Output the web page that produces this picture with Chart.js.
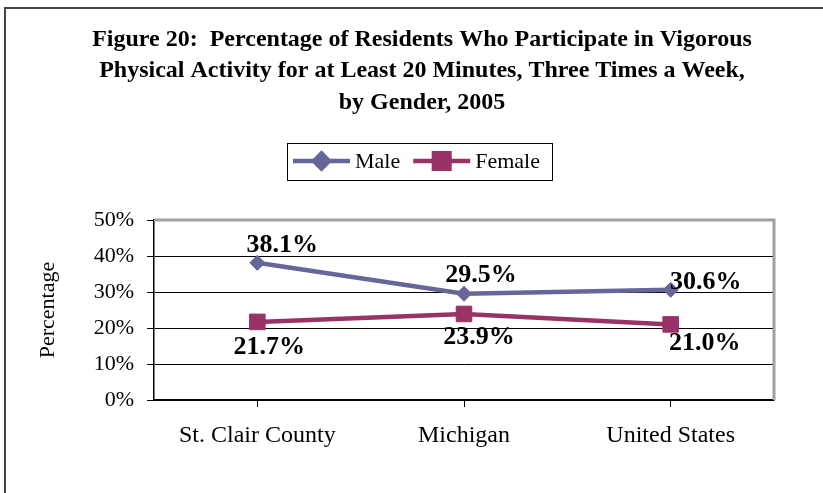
<!DOCTYPE html>
<html>
<head>
<meta charset="utf-8">
<script src="https://cdn.jsdelivr.net/npm/chart.js@4/dist/chart.umd.min.js"></script>
<style>
  html, body { margin: 0; padding: 0; background: #fff; }
  #wrap { width: 823px; height: 493px; }
</style>
</head>
<body>
<div id="wrap"><canvas id="chart" width="823" height="493"></canvas></div>
<script>
// Vigorous activity by gender, 2005 (values in percent)
const categories = ['St. Clair County', 'Michigan', 'United States'];
const maleValues = [38.1, 29.5, 30.6];
const femaleValues = [21.7, 23.9, 21.0];
const yTicks = [0, 10, 20, 30, 40, 50];

// where each data label sits relative to its point (pixels)
const maleLabelOffsets = [[25, -18], [17, -19], [35, -8]];
const femaleLabelOffsets = [[12, 25], [15, 23], [34, 19]];

const SERIF = "'Liberation Serif', 'Times New Roman', serif";

// outer frame, white background
const framePlugin = {
  id: 'frame',
  beforeDraw(chart) {
    const ctx = chart.ctx;
    ctx.save();
    ctx.fillStyle = '#fff';
    ctx.fillRect(0, 0, chart.width, chart.height);
    ctx.strokeStyle = '#444';
    ctx.lineWidth = 2;
    ctx.beginPath();
    ctx.moveTo(5, chart.height);
    ctx.lineTo(5, 8);
    ctx.lineTo(chart.width, 8);
    ctx.stroke();
    ctx.restore();
  }
};

// grey plot-area border on top and right
const plotBorderPlugin = {
  id: 'plotBorder',
  beforeDatasetsDraw(chart) {
    const a = chart.chartArea;
    const ctx = chart.ctx;
    ctx.save();
    ctx.strokeStyle = '#a0a0a0';
    ctx.lineWidth = 3;
    ctx.beginPath();
    ctx.moveTo(a.left, a.top);
    ctx.lineTo(a.right, a.top);
    ctx.lineTo(a.right, a.bottom);
    ctx.stroke();
    ctx.restore();
  }
};

// boxed legend with line + marker samples
const boxLegendPlugin = {
  id: 'boxLegend',
  afterDraw(chart) {
    const ctx = chart.ctx;
    const font = '22px ' + SERIF;
    const y = 161;
    ctx.save();
    ctx.font = font;
    let x = 293;
    const parts = chart.data.datasets.map(ds => ({ ds, w: ctx.measureText(ds.label).width }));
    ctx.strokeStyle = '#000';
    ctx.lineWidth = 1;
    ctx.strokeRect(287.5, 143.5, 265, 37);
    parts.forEach(({ ds, w }) => {
      ctx.strokeStyle = ds.borderColor;
      ctx.lineWidth = ds.borderWidth;
      ctx.beginPath();
      ctx.moveTo(x, y);
      ctx.lineTo(x + 57, y);
      ctx.stroke();
      ctx.fillStyle = ds.pointBackgroundColor;
      ctx.strokeStyle = ds.pointBorderColor;
      Chart.helpers.drawPoint(ctx, {
        pointStyle: ds.pointStyle,
        radius: ds.pointRadius,
        borderWidth: ds.pointBorderWidth,
        rotation: 0
      }, x + 28.5, y);
      ctx.fillStyle = '#000';
      ctx.textBaseline = 'middle';
      ctx.textAlign = 'left';
      ctx.fillText(ds.label, x + 62, y + 1);
      x += 62 + w + 13;
    });
    ctx.restore();
  }
};

// bold value labels next to points
const valueLabelPlugin = {
  id: 'valueLabels',
  afterDatasetsDraw(chart) {
    const ctx = chart.ctx;
    ctx.save();
    ctx.font = 'bold 26px ' + SERIF;
    ctx.fillStyle = '#000';
    ctx.textAlign = 'center';
    ctx.textBaseline = 'middle';
    chart.data.datasets.forEach((ds, i) => {
      const meta = chart.getDatasetMeta(i);
      meta.data.forEach((pt, j) => {
        const off = ds.labelOffsets[j];
        ctx.fillText(ds.data[j].toFixed(1) + '%', pt.x + off[0], pt.y + off[1]);
      });
    });
    ctx.restore();
  }
};

new Chart(document.getElementById('chart'), {
  type: 'line',
  data: {
    labels: categories,
    datasets: [
      {
        label: 'Male',
        data: maleValues,
        labelOffsets: maleLabelOffsets,
        borderColor: '#666699',
        backgroundColor: '#666699',
        borderWidth: 4.5,
        pointStyle: 'rectRot',
        pointRadius: 7.5,
        pointBackgroundColor: '#666699',
        pointBorderColor: '#666699',
        pointBorderWidth: 1,
        tension: 0
      },
      {
        label: 'Female',
        data: femaleValues,
        labelOffsets: femaleLabelOffsets,
        borderColor: '#993366',
        backgroundColor: '#993366',
        borderWidth: 4.5,
        pointStyle: 'rect',
        pointRadius: 11,
        pointBackgroundColor: '#993366',
        pointBorderColor: '#993366',
        pointBorderWidth: 1,
        tension: 0
      }
    ]
  },
  options: {
    responsive: false,
    animation: false,
    events: [],
    layout: { padding: { left: 70, right: 49, top: 0, bottom: 0 } },
    plugins: {
      legend: { display: false },
      tooltip: { enabled: false },
      title: {
        display: true,
        text: [
          'Figure 20:  Percentage of Residents Who Participate in Vigorous',
          'Physical Activity for at Least 20 Minutes, Three Times a Week,',
          'by Gender, 2005'
        ],
        color: '#000',
        font: { family: SERIF, size: 24, weight: 'bold', lineHeight: '31.5px' },
        padding: { top: 24, bottom: 101.5 }
      }
    },
    scales: {
      x: {
        type: 'category',
        offset: true,
        grid: { drawOnChartArea: false, drawTicks: true, tickLength: 7, color: '#000', lineWidth: 1 },
        border: { color: '#000', width: 1.5 },
        ticks: { color: '#000', font: { family: SERIF, size: 24 }, padding: 14, maxRotation: 0, autoSkip: false },
        afterFit(scale) { scale.height = 93; }
      },
      y: {
        min: 0,
        max: 50,
        afterBuildTicks(scale) { scale.ticks = yTicks.map(v => ({ value: v })); },
        grid: { color: '#000', lineWidth: 1, tickLength: 7 },
        border: { color: '#000', width: 1.5 },
        ticks: { color: '#000', font: { family: SERIF, size: 22 }, padding: 13, callback: v => v + '%' },
        title: {
          display: true,
          text: 'Percentage',
          color: '#000',
          font: { family: SERIF, size: 22 },
          padding: { top: -35, bottom: 0 }
        },
        afterFit(scale) { scale.width = 84; }
      }
    }
  },
  plugins: [framePlugin, plotBorderPlugin, valueLabelPlugin, boxLegendPlugin]
});
</script>
</body>
</html>
